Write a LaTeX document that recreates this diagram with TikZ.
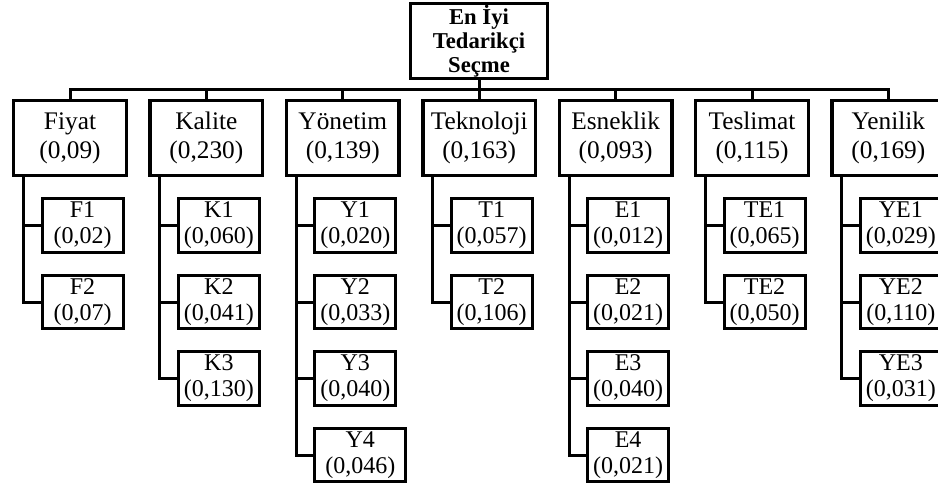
\documentclass[tikz,border=0pt]{standalone}
\usepackage{fontspec}
\setmainfont{Liberation Serif}
\begin{document}
\begin{tikzpicture}[x=0.75pt,y=-0.75pt,
  goalbox/.style={draw, line width=2.4pt, minimum width=102.5pt, minimum height=56pt, inner sep=0pt, align=center,
    font=\fontsize{17}{18}\selectfont\bfseries},
  critbox/.style={draw, line width=2.6pt, minimum width=84.5pt, minimum height=56.5pt, inner sep=0pt, align=center,
    font=\fontsize{19}{21.75}\selectfont},
  subbox/.style={draw, line width=2.25pt, minimum width=60.75pt, minimum height=40pt, inner sep=0pt, align=center,
    anchor=west, font=\fontsize{18}{19.5}\selectfont},
  link/.style={line width=2.25pt}]
\useasboundingbox (0,0) rectangle (938,486);
% top
\node[goalbox] (top) at (479,41) {En İyi\\Tedarikçi\\Seçme};
\coordinate (bus) at (0,89);
% criteria
\node[critbox] (p1) at (70,138) {Fiyat\\(0,09)};
\node[critbox] (p2) at (206.4,138) {Kalite\\(0,230)};
\node[critbox] (p3) at (342.8,138) {Yönetim\\(0,139)};
\node[critbox] (p4) at (479.2,138) {Teknoloji\\(0,163)};
\node[critbox] (p5) at (615.6,138) {Esneklik\\(0,093)};
\node[critbox] (p6) at (752,138) {Teslimat\\(0,115)};
\node[critbox] (p7) at (888.4,138) {Yenilik\\(0,169)};
% bus
\draw[link] (top.south) -- (top.south |- bus);
\draw[link] (p1.north) -- (p1.north |- bus) -- (p7.north |- bus) -- (p7.north);
\foreach \p in {p2,p3,p4,p5,p6} \draw[link] (\p.north) -- (\p.north |- bus);
% vertical spine x positions
\coordinate (v1) at (23.5,177);
\coordinate (v2) at (159.9,177);
\coordinate (v3) at (296.3,177);
\coordinate (v4) at (432.7,177);
\coordinate (v5) at (569.1,177);
\coordinate (v6) at (705.5,177);
\coordinate (v7) at (841.9,177);
% Fiyat
\node[subbox] (f1) at (40.5,225.5) {F1\\(0,02)};
\node[subbox] (f2) at (40.5,302) {F2\\(0,07)};
% Kalite
\node[subbox] (k1) at (176.9,225.5) {K1\\(0,060)};
\node[subbox] (k2) at (176.9,302) {K2\\(0,041)};
\node[subbox] (k3) at (176.9,378.5) {K3\\(0,130)};
% Yonetim
\node[subbox] (y1) at (313.3,225.5) {Y1\\(0,020)};
\node[subbox] (y2) at (313.3,302) {Y2\\(0,033)};
\node[subbox] (y3) at (313.3,378.5) {Y3\\(0,040)};
\node[subbox, minimum width=68.25pt] (y4) at (313.3,455) {Y4\\(0,046)};
% Teknoloji
\node[subbox] (t1) at (449.7,225.5) {T1\\(0,057)};
\node[subbox] (t2) at (449.7,302) {T2\\(0,106)};
% Esneklik
\node[subbox] (e1) at (586.1,225.5) {E1\\(0,012)};
\node[subbox] (e2) at (586.1,302) {E2\\(0,021)};
\node[subbox] (e3) at (586.1,378.5) {E3\\(0,040)};
\node[subbox] (e4) at (586.1,455) {E4\\(0,021)};
% Teslimat
\node[subbox] (te1) at (722.5,225.5) {TE1\\(0,065)};
\node[subbox] (te2) at (722.5,302) {TE2\\(0,050)};
% Yenilik
\node[subbox] (ye1) at (858.9,225.5) {YE1\\(0,029)};
\node[subbox] (ye2) at (858.9,302) {YE2\\(0,110)};
\node[subbox] (ye3) at (858.9,378.5) {YE3\\(0,031)};
% spines
\draw[link] (v1 |- p1.south) |- (f2.west);
\draw[link] (f1.west) -- (f1.west -| v1);
\draw[link] (v2 |- p2.south) |- (k3.west);
\foreach \c in {k1,k2} \draw[link] (\c.west) -- (\c.west -| v2);
\draw[link] (v3 |- p3.south) |- (y4.west);
\foreach \c in {y1,y2,y3} \draw[link] (\c.west) -- (\c.west -| v3);
\draw[link] (v4 |- p4.south) |- (t2.west);
\draw[link] (t1.west) -- (t1.west -| v4);
\draw[link] (v5 |- p5.south) |- (e4.west);
\foreach \c in {e1,e2,e3} \draw[link] (\c.west) -- (\c.west -| v5);
\draw[link] (v6 |- p6.south) |- (te2.west);
\draw[link] (te1.west) -- (te1.west -| v6);
\draw[link] (v7 |- p7.south) |- (ye3.west);
\foreach \c in {ye1,ye2} \draw[link] (\c.west) -- (\c.west -| v7);
\end{tikzpicture}
\end{document}
